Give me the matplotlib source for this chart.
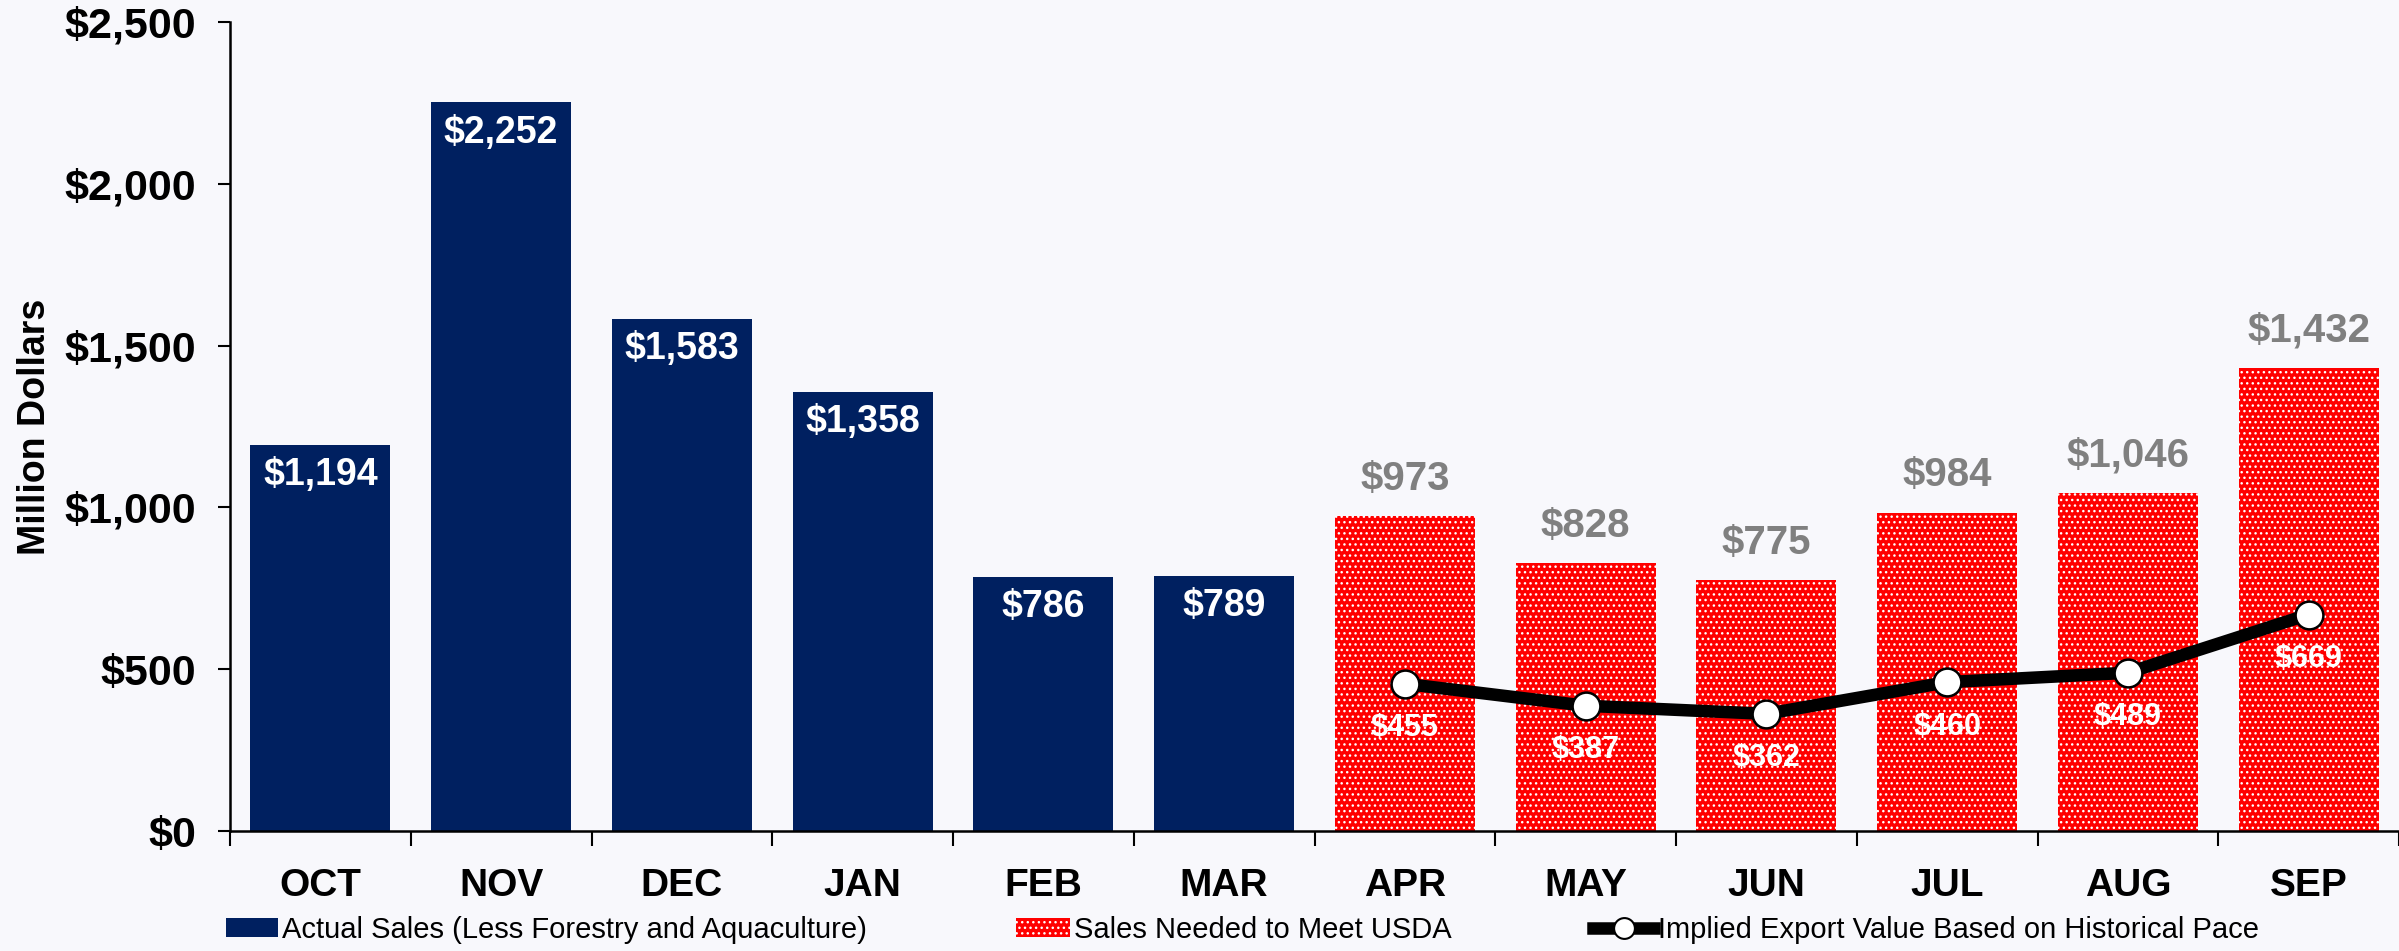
import matplotlib
matplotlib.use("Agg")
import matplotlib.pyplot as plt
from matplotlib.lines import Line2D
from matplotlib.patches import Patch
import numpy as np

months = ["OCT", "NOV", "DEC", "JAN", "FEB", "MAR", "APR", "MAY", "JUN", "JUL", "AUG", "SEP"]
actual_months = months[:6]
actual_sales = [1194, 2252, 1583, 1358, 786, 789]
needed_months = months[6:]
needed_sales = [973, 828, 775, 984, 1046, 1432]
implied_value = [455, 387, 362, 460, 489, 669]
y_ticks = [0, 500, 1000, 1500, 2000, 2500]

NAVY = "#002060"
RED = "#ff0000"
GRAY = "#808080"
BG = "#f8f8fc"

plt.rcParams["font.family"] = ["Liberation Sans", "DejaVu Sans"]
plt.rcParams["hatch.linewidth"] = 1.0

fig = plt.figure(figsize=(23.99, 9.51), dpi=100, facecolor=BG)
ax = fig.add_axes([230 / 2399, 1 - 831 / 951, 1 - 230 / 2399, 809 / 951])
ax.set_facecolor(BG)

x = np.arange(len(months))
x_act = x[:6]
x_need = x[6:]

ax.bar(x_act, actual_sales, width=0.775, color=NAVY, zorder=2)
ax.bar(x_need, needed_sales, width=0.775, color=RED, edgecolor="white",
       linewidth=0, hatch="...", zorder=2)
ax.plot(x_need, implied_value, color="black", lw=9, marker="o", ms=20,
        mfc="white", mec="black", mew=1.8, zorder=3, solid_capstyle="round")

for xi, v in zip(x_act, actual_sales):
    ax.annotate(f"${v:,}", (xi, v), xytext=(0, -22), textcoords="offset points",
                ha="center", va="center", color="white", fontsize=27, fontweight="bold", zorder=4)
for xi, v in zip(x_need, needed_sales):
    ax.annotate(f"${v:,}", (xi, v), xytext=(0, 27), textcoords="offset points",
                ha="center", va="center", color=GRAY, fontsize=29, fontweight="bold", zorder=4)
for xi, v in zip(x_need, implied_value):
    ax.annotate(f"${v:,}", (xi, v), xytext=(0, -32), textcoords="offset points",
                ha="center", va="center", color="white", fontsize=22, fontweight="bold", zorder=4)

ax.set_xlim(-0.5, 11.5)
ax.set_ylim(0, 2500)
ax.set_yticks(y_ticks)
ax.set_yticklabels([f"${t:,}" for t in y_ticks], fontsize=31, fontweight="bold")
ax.set_xticks(x)
ax.set_xticklabels(months, fontsize=28, fontweight="bold")
ax.set_xticks(np.arange(-0.5, 12, 1), minor=True)
ax.tick_params(axis="x", which="major", length=0, pad=27)
ax.tick_params(axis="x", which="minor", length=11, width=1.5, direction="out")
ax.tick_params(axis="y", length=8.6, width=1.5, direction="out", pad=16)
ax.set_ylabel("Million Dollars", fontsize=27, fontweight="bold", labelpad=8)

for s in ["top", "right"]:
    ax.spines[s].set_visible(False)
for s in ["left", "bottom"]:
    ax.spines[s].set_linewidth(1.8)

# legend, three separate pieces like the original
ly = 1 - 930 / 951
fs = 21
em = fs * 100 / 72
h1 = Patch(facecolor=NAVY)
h2 = Patch(facecolor=RED, edgecolor="white", linewidth=0, hatch="...")
h3 = Line2D([], [], color="black", lw=9, marker="o", ms=15, mfc="white", mec="black", mew=1.5)
for h, lab, xpos, hl in [(h1, "Actual Sales (Less Forestry and Aquaculture)", 226, 52),
                         (h2, "Sales Needed to Meet USDA", 1016, 54),
                         (h3, "Implied Export Value Based on Historical Pace", 1593, 61)]:
    fig.legend([h], [lab], loc="center left", bbox_to_anchor=(xpos / 2399, ly),
               frameon=False, borderpad=0, borderaxespad=0,
               handlelength=hl / em, handleheight=18 / em,
               handletextpad=0.14, prop={"size": fs})

fig.savefig("out.png", dpi=100, facecolor=BG)
